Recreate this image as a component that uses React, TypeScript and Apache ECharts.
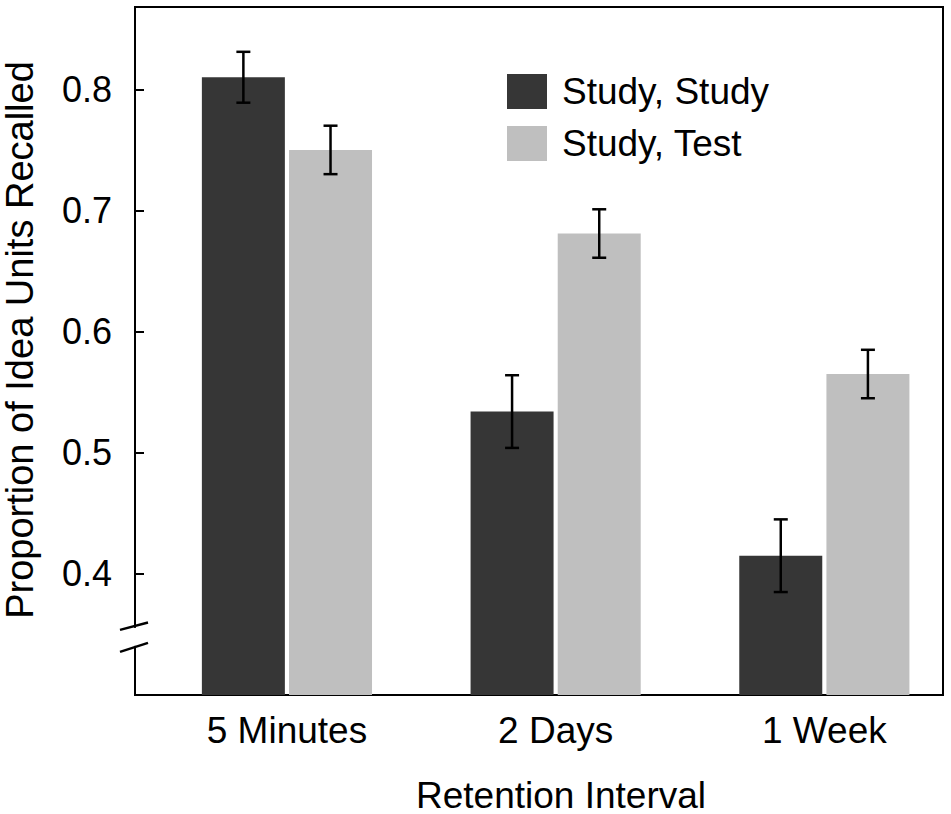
import React, { useEffect, useRef } from "react";
import * as echarts from "echarts";

const FONT = "'Liberation Sans', Arial, Helvetica, sans-serif";

const categories = ["5 Minutes", "2 Days", "1 Week"];
const seriesNames = ["Study, Study", "Study, Test"];
const studyStudy = [0.81, 0.534, 0.415];
const studyTest = [0.75, 0.681, 0.565];
const studyStudyErr = [0.021, 0.03, 0.03];
const studyTestErr = [0.02, 0.02, 0.02];
const categoryPositions = [0, 1, 2];

const DARK = "#363636";
const LIGHT = "#bfbfbf";
const BAR_W = 83;
const BAR_GAP = 0.05;
const HALF_OFFSET = (BAR_W * (1 + BAR_GAP)) / 2;

function errorSeries(name: string, values: number[], errs: number[], offset: number) {
  return {
    type: "custom",
    name: name + " error",
    data: values.map((v, i) => [categoryPositions[i], v - errs[i], v + errs[i]]),
    encode: { x: 0, y: [1, 2] },
    z: 10,
    renderItem: (params: any, api: any) => {
      const x = api.value(0);
      const lo = api.value(1);
      const hi = api.value(2);
      const top = api.coord([x, hi]);
      const bot = api.coord([x, lo]);
      const cx = top[0] + offset;
      const style = { stroke: "#000", lineWidth: 2.5 };
      return {
        type: "group",
        children: [
          { type: "line", shape: { x1: cx, y1: top[1], x2: cx, y2: bot[1] }, style },
          { type: "line", shape: { x1: cx - 7, y1: top[1], x2: cx + 7, y2: top[1] }, style },
          { type: "line", shape: { x1: cx - 7, y1: bot[1], x2: cx + 7, y2: bot[1] }, style },
        ],
      };
    },
  };
}

export default function App() {
  const ref = useRef<HTMLDivElement>(null);
  useEffect(() => {
    document.body.style.margin = "0";
    const chart = echarts.init(ref.current!, undefined, { renderer: "svg" });
    const option: any = {
      animation: false,
      textStyle: { fontFamily: FONT },
      grid: {
        left: 135,
        right: 8,
        top: 7,
        bottom: 119,
        show: true,
        borderColor: "#000",
        borderWidth: 2,
        backgroundColor: "transparent",
      },
      legend: {
        orient: "vertical",
        left: 507,
        top: 73,
        padding: 0,
        itemWidth: 40,
        itemHeight: 35,
        itemGap: 15,
        icon: "rect",
        data: seriesNames,
        textStyle: { fontSize: 37, color: "#000", lineHeight: 35, padding: [0, 0, 0, 10], fontFamily: FONT },
      },
      xAxis: {
        type: "value",
        min: -0.5655,
        max: 2.4416,
        axisLine: { show: false, onZero: false },
        axisTick: { show: false },
        splitLine: { show: false },
        axisLabel: {
          customValues: categoryPositions,
          formatter: (v: number) => categories[Math.round(v)] ?? "",
          fontSize: 37,
          color: "#000",
          margin: 17,
          fontFamily: FONT,
        },
      },
      yAxis: {
        type: "value",
        min: 0.3,
        max: 0.868,
        interval: 0.1,
        axisLine: { show: false, onZero: false },
        axisTick: { show: true, inside: true, length: 9, lineStyle: { color: "#000", width: 2 } },
        splitLine: { show: false },
        axisLabel: {
          fontSize: 36,
          color: "#000",
          margin: 23,
          showMinLabel: false,
          showMaxLabel: false,
          formatter: (v: number) => v.toFixed(1),
          fontFamily: FONT,
        },
      },
      series: [
        {
          type: "bar",
          name: seriesNames[0],
          data: studyStudy.map((v, i) => [categoryPositions[i], v]),
          barWidth: BAR_W,
          barGap: BAR_GAP * 100 + "%",
          itemStyle: { color: DARK },
        },
        {
          type: "bar",
          name: seriesNames[1],
          data: studyTest.map((v, i) => [categoryPositions[i], v]),
          barWidth: BAR_W,
          barGap: BAR_GAP * 100 + "%",
          itemStyle: { color: LIGHT },
        },
        errorSeries(seriesNames[0], studyStudy, studyStudyErr, -HALF_OFFSET),
        errorSeries(seriesNames[1], studyTest, studyTestErr, HALF_OFFSET),
      ],
    };
    chart.setOption(option);

    const axisX = chart.convertToPixel({ gridIndex: 0 } as any, [-0.5655, 0.3])[0];
    const breakY = chart.convertToPixel({ yAxisIndex: 0 } as any, 0.348) as number;
    const lineStyle = { stroke: "#000", lineWidth: 2.5 };
    chart.setOption({
      graphic: [
        {
          type: "rect",
          z: 100,
          shape: { x: axisX - 4, y: breakY - 9, width: 8, height: 18 },
          style: { fill: "#fff" },
        },
        {
          type: "line",
          z: 101,
          shape: { x1: axisX - 15, y1: breakY - 7, x2: axisX + 13, y2: breakY - 14.3 },
          style: lineStyle,
        },
        {
          type: "line",
          z: 101,
          shape: { x1: axisX - 15, y1: breakY + 15, x2: axisX + 13, y2: breakY + 6 },
          style: lineStyle,
        },
        {
          type: "text",
          z: 101,
          x: 20,
          y: 340,
          rotation: Math.PI / 2,
          style: {
            text: "Proportion of Idea Units Recalled",
            fontSize: 38,
            fill: "#000",
            align: "center",
            verticalAlign: "middle",
            fontFamily: FONT,
          },
        },
        {
          type: "text",
          z: 101,
          x: 561,
          y: 795,
          style: {
            text: "Retention Interval",
            fontSize: 37,
            fill: "#000",
            align: "center",
            verticalAlign: "middle",
            fontFamily: FONT,
          },
        },
      ],
    });
    return () => chart.dispose();
  }, []);
  return (
    <div
      ref={ref}
      style={{ position: "absolute", left: 0, top: 0, width: 951, height: 814 }}
    />
  );
}
